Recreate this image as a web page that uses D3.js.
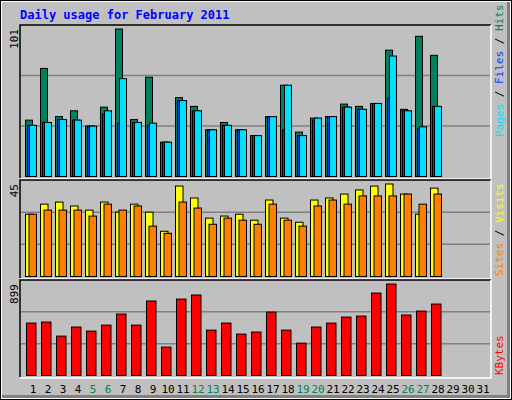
<!DOCTYPE html>
<html>
<head>
<meta charset="utf-8">
<script src="https://cdn.jsdelivr.net/npm/d3@7"></script>
<style>
  body { margin: 0; }
  text { font-family: 'DejaVu Sans Mono', monospace; }
</style>
</head>
<body>
<script>
// values
var days = d3.range(1, 32)
var weekend = [5, 6, 12, 13, 19, 20, 26, 27]
var hits = [38.6, 74, 41, 45, 34.5, 47.5, 101, 39, 68, 23.5, 54, 48, 32, 37, 32, 28, 41, 62.5, 30.4, 40, 41, 49.6, 48, 50, 86.5, 46, 96, 83]
var pages = [35, 37, 39, 38.6, 34.5, 45, 67, 37, 36.5, 23.5, 52, 45, 32, 35, 32, 28, 41, 62.5, 28, 40, 41, 47.5, 46, 50, 82.5, 45, 34, 48]
var files = [35, 37, 39, 38.6, 34.5, 42.7, 36.5, 37, 35, 23.5, 52, 45, 32, 35, 32, 28, 41, 32, 28, 38.6, 41, 47.5, 46, 50, 53.7, 45, 33, 48]
var visits = [30.3, 35.2, 36.2, 34.3, 32.3, 36.2, 31.3, 35.2, 31.3, 22, 44, 38.2, 28.4, 29.4, 30.3, 27.4, 37.2, 28.4, 26.4, 37.2, 38.2, 40.1, 42.1, 44, 45, 40.1, 30.3, 43]
var sites = [30.3, 32.3, 32.3, 32.3, 29.4, 35.2, 32.3, 34.3, 24.5, 21, 36.2, 33.3, 25.4, 28.4, 27.4, 25.4, 35.2, 27.4, 24.5, 34.3, 37.2, 35.2, 39.2, 39.2, 39.2, 40.1, 35.2, 40.1]
var kbytes = [515, 525, 387, 476, 436, 495, 604, 495, 732, 279, 751, 791, 446, 515, 407, 427, 623, 446, 318, 476, 515, 574, 584, 810, 899, 594, 633, 702]

var W = 512, H = 400
var svg = d3.select('body').append('svg').attr('width', W).attr('height', H)

// background with bevel
svg.append('rect').attr('x', 0).attr('y', 0).attr('width', W).attr('height', H).attr('fill', '#000')
svg.append('rect').attr('x', 1).attr('y', 1).attr('width', W - 2).attr('height', H - 2).attr('fill', '#fff')
svg.append('rect').attr('x', 2).attr('y', 2).attr('width', W - 4).attr('height', H - 4).attr('fill', '#808080')
svg.append('rect').attr('x', 2).attr('y', 2).attr('width', W - 7).attr('height', H - 7).attr('fill', '#c0c0c0')

svg.append('text').attr('x', 20).attr('y', 19)
  .attr('font-size', 12).attr('font-weight', 'bold').attr('fill', '#0000ff')
  .text('Daily usage for February 2011')

var x = d3.scaleBand().domain(days).range([25, 490]).paddingInner(0).paddingOuter(0)
x.range([25, 25 + 15 * 31])

// panel helper
function panel (top, bottom, max, label) {
  svg.append('rect').attr('x', 20).attr('y', top).attr('width', 471).attr('height', bottom - top)
    .attr('fill', '#c0c0c0').attr('stroke', 'none')
  svg.append('path').attr('d', 'M20,' + bottom + 'V' + top + 'H491').attr('stroke', '#000').attr('stroke-width', 1.5).attr('fill', 'none')
  svg.append('path').attr('d', 'M20,' + (bottom + 1) + 'H491V' + top).attr('stroke', '#fff').attr('stroke-width', 1.5).attr('fill', 'none')
  var base = bottom - 1.5
  var y = d3.scaleLinear().domain([0, max]).range([base, top + 4])
  var step = (base - top) / 3
  ;[1, 2].forEach(function (k) {
    svg.append('line').attr('x1', 21).attr('x2', 490)
      .attr('y1', base - step * k).attr('y2', base - step * k)
      .attr('stroke', '#808080').attr('stroke-width', 1.5)
  })
  svg.append('text').attr('transform', 'translate(18,' + (top + 4) + ')rotate(-90)')
    .attr('text-anchor', 'end').attr('font-size', 11).text(label)
  return y
}

function bars (data, y, dx, w, color) {
  svg.append('g').selectAll('rect').data(data).enter().append('rect')
    .attr('x', function (d, i) { return x(days[i]) + dx })
    .attr('y', function (d) { return y(d) })
    .attr('width', w)
    .attr('height', function (d) { return y(0) - y(d) })
    .attr('fill', color).attr('stroke', '#000').attr('stroke-width', 1)
}

var yTop = panel(25, 178, 101, '101')
bars(hits, yTop, 0.5, 7, '#00805c')
bars(files, yTop, 2.5, 7, '#0040ff')
bars(pages, yTop, 4.5, 7, '#00e0ff')

var yMid = panel(180, 278, 45, '45')
bars(visits, yMid, 0.5, 7.5, '#ffff00')
bars(sites, yMid, 4, 7.5, '#ff8000')

var yBot = panel(280, 377, 899, '899')
bars(kbytes, yBot, 1.5, 9.5, '#ff0000')

// day labels
svg.append('g').selectAll('text').data(days).enter().append('text')
  .attr('x', function (d) { return x(d) + 8 })
  .attr('y', 393)
  .attr('text-anchor', 'middle').attr('font-size', 11)
  .attr('fill', function (d) { return weekend.indexOf(d) >= 0 ? '#00805c' : '#000' })
  .text(function (d) { return d })

// right side legends
function legend (yPos, parts) {
  var t = svg.append('text').attr('transform', 'translate(503,' + yPos + ')rotate(-90)')
    .attr('font-size', 11)
  parts.forEach(function (p) { t.append('tspan').attr('fill', p[1]).text(p[0]) })
}
legend(137, [['Pages', '#00e0ff'], [' / ', '#000'], ['Files', '#0040ff'], [' / ', '#000'], ['Hits', '#00805c']])
legend(276, [['Sites', '#ff8000'], [' / ', '#000'], ['Visits', '#ffff00']])
legend(375, [['KBytes', '#ff0000']])
</script>
</body>
</html>
